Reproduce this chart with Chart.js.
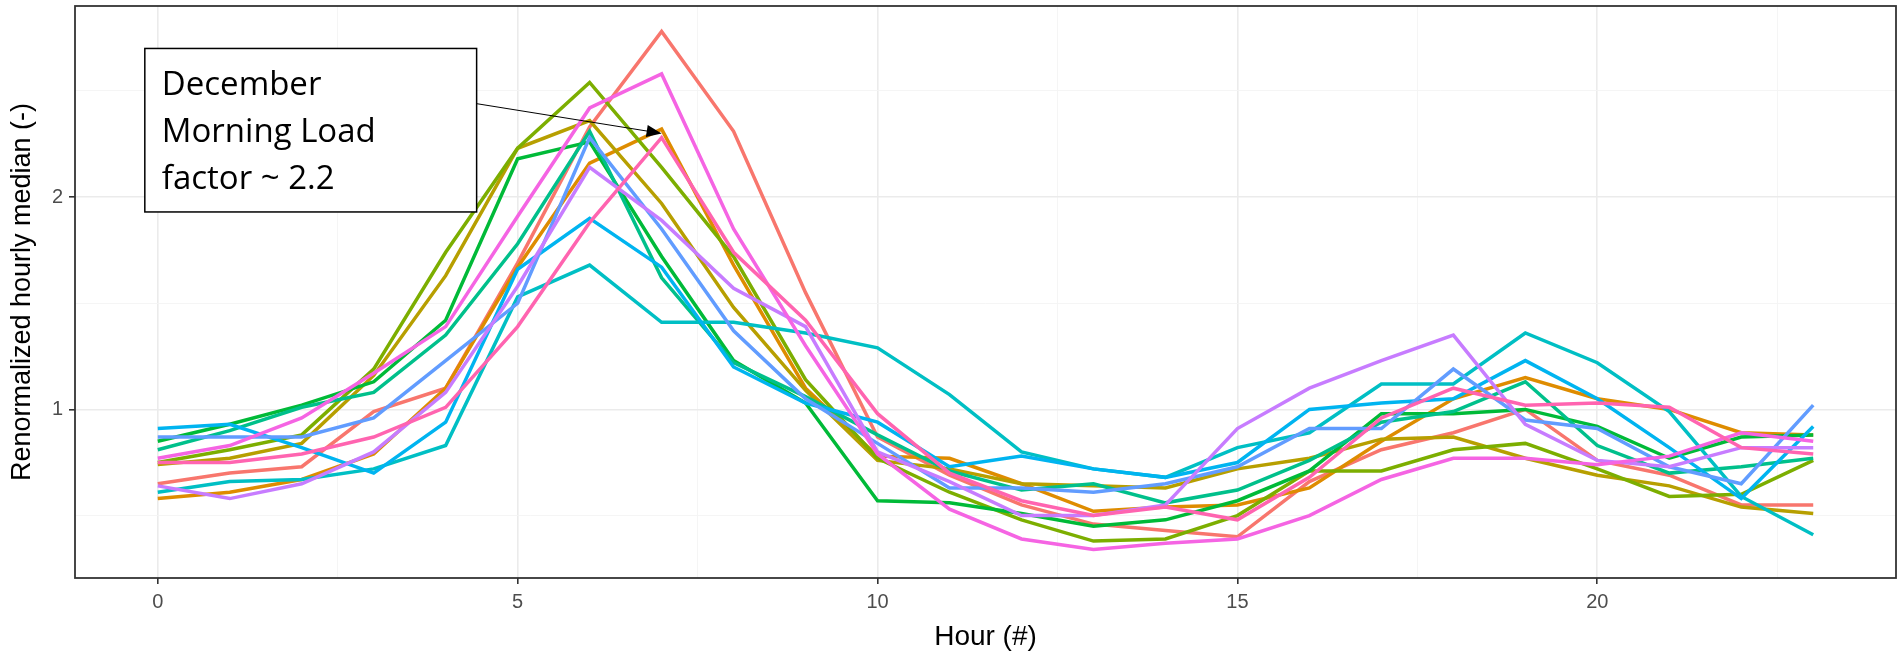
<!DOCTYPE html>
<html>
<head>
<meta charset="utf-8">
<script src="https://cdn.jsdelivr.net/npm/chart.js@4.4.1/dist/chart.umd.min.js"></script>
<style>
  html, body { margin: 0; padding: 0; background: #fff; }
</style>
</head>
<body>
<canvas id="chart" width="1900" height="654"></canvas>
<script>
const hours = [0, 1, 2, 3, 4, 5, 6, 7, 8, 9, 10, 11, 12, 13, 14, 15, 16, 17, 18, 19, 20, 21, 22, 23];
const months = ["January", "February", "March", "April", "May", "June",
  "July", "August", "September", "October", "November", "December"];
const colors = ["#F8766D", "#DE8C00", "#B79F00", "#7CAE00", "#00BA38", "#00C08B",
  "#00BFC4", "#00B4F0", "#619CFF", "#C77CFF", "#F564E3", "#FF64B0"];

const jan = [0.65, 0.70, 0.73, 0.99, 1.10, 1.69, 2.33, 2.78, 2.31, 1.55, 0.87, 0.69, 0.55, 0.46, 0.43, 0.40, 0.66, 0.81, 0.89, 1.00, 0.76, 0.69, 0.55, 0.55];
const feb = [0.58, 0.61, 0.67, 0.79, 1.10, 1.67, 2.16, 2.32, 1.68, 1.10, 0.78, 0.77, 0.65, 0.52, 0.54, 0.55, 0.63, 0.85, 1.05, 1.15, 1.05, 1.00, 0.89, 0.88];
const mar = [0.74, 0.77, 0.84, 1.16, 1.63, 2.23, 2.36, 1.97, 1.48, 1.09, 0.76, 0.72, 0.65, 0.64, 0.63, 0.72, 0.77, 0.86, 0.87, 0.77, 0.69, 0.64, 0.54, 0.51];
const apr = [0.75, 0.81, 0.88, 1.19, 1.74, 2.23, 2.54, 2.14, 1.72, 1.14, 0.77, 0.61, 0.48, 0.38, 0.39, 0.50, 0.71, 0.71, 0.81, 0.84, 0.72, 0.59, 0.60, 0.76];
const may = [0.85, 0.93, 1.02, 1.13, 1.42, 2.18, 2.26, 1.72, 1.23, 1.03, 0.57, 0.56, 0.51, 0.45, 0.48, 0.57, 0.71, 0.98, 0.98, 1.00, 0.92, 0.77, 0.87, 0.88];
const jun = [0.81, 0.90, 1.01, 1.08, 1.35, 1.78, 2.31, 1.62, 1.22, 1.06, 0.88, 0.71, 0.62, 0.65, 0.56, 0.62, 0.76, 0.94, 0.99, 1.13, 0.83, 0.70, 0.73, 0.77];
const jul = [0.61, 0.66, 0.67, 0.72, 0.83, 1.53, 1.68, 1.41, 1.41, 1.36, 1.29, 1.07, 0.80, 0.72, 0.68, 0.82, 0.89, 1.12, 1.12, 1.36, 1.22, 0.99, 0.59, 0.41];
const aug = [0.91, 0.93, 0.82, 0.70, 0.94, 1.66, 1.90, 1.67, 1.20, 1.03, 0.94, 0.73, 0.78, 0.72, 0.68, 0.75, 1.00, 1.03, 1.05, 1.23, 1.05, 0.82, 0.58, 0.92];
const sep = [0.87, 0.87, 0.87, 0.96, 1.23, 1.50, 2.28, 1.85, 1.37, 1.05, 0.84, 0.63, 0.63, 0.61, 0.65, 0.73, 0.91, 0.91, 1.19, 0.95, 0.91, 0.73, 0.65, 1.02];
const oct = [0.64, 0.58, 0.65, 0.80, 1.08, 1.58, 2.14, 1.89, 1.57, 1.39, 0.80, 0.66, 0.50, 0.50, 0.55, 0.91, 1.10, 1.23, 1.35, 0.93, 0.76, 0.73, 0.82, 0.82];
const nov = [0.77, 0.83, 0.96, 1.17, 1.39, 1.91, 2.42, 2.58, 1.85, 1.30, 0.79, 0.53, 0.39, 0.34, 0.37, 0.39, 0.50, 0.67, 0.77, 0.77, 0.74, 0.78, 0.89, 0.85];
const dec = [0.75, 0.75, 0.79, 0.87, 1.01, 1.39, 1.88, 2.28, 1.74, 1.42, 0.98, 0.70, 0.57, 0.50, 0.54, 0.48, 0.68, 0.96, 1.10, 1.02, 1.03, 1.01, 0.82, 0.79];
const series = [jan, feb, mar, apr, may, jun, jul, aug, sep, oct, nov, dec];

const xTicks = [0, 2.5, 5, 7.5, 10, 12.5, 15, 17.5, 20, 22.5];
const yTicks = [0.5, 1, 1.5, 2, 2.5];
const noteLines = ["December", "Morning Load", "factor ~ 2.2"];

const FONT = "'Liberation Sans', Arial, sans-serif";

// panel border, label box and arrow
const extras = {
  id: "extras",
  afterDraw(chart) {
    const ctx = chart.ctx;
    const a = chart.chartArea;
    const xs = chart.scales.x, ys = chart.scales.y;
    ctx.save();

    const bx0 = xs.getPixelForValue(-0.18), bx1 = xs.getPixelForValue(4.43);
    const by0 = ys.getPixelForValue(2.70), by1 = ys.getPixelForValue(1.93);
    ctx.fillStyle = "#fff";
    ctx.fillRect(bx0, by0, bx1 - bx0, by1 - by0);
    ctx.strokeStyle = "#000";
    ctx.lineWidth = 1.5;
    ctx.strokeRect(bx0, by0, bx1 - bx0, by1 - by0);
    ctx.fillStyle = "#000";
    ctx.font = "33px 'Open Sans'";
    ctx.textBaseline = "alphabetic";
    noteLines.forEach((t, i) => ctx.fillText(t, bx0 + 17, by0 + 47 + i * 47));

    // arrow to the December peak
    const sx = bx1, sy = ys.getPixelForValue(2.44);
    const ex = xs.getPixelForValue(7), ey = ys.getPixelForValue(2.30);
    const ang = Math.atan2(ey - sy, ex - sx);
    ctx.lineWidth = 1;
    ctx.beginPath();
    ctx.moveTo(sx, sy);
    ctx.lineTo(ex - 12 * Math.cos(ang), ey - 12 * Math.sin(ang));
    ctx.stroke();
    ctx.beginPath();
    ctx.moveTo(ex, ey);
    ctx.lineTo(ex - 15 * Math.cos(ang) + 6 * Math.sin(ang), ey - 15 * Math.sin(ang) - 6 * Math.cos(ang));
    ctx.lineTo(ex - 15 * Math.cos(ang) - 6 * Math.sin(ang), ey - 15 * Math.sin(ang) + 6 * Math.cos(ang));
    ctx.closePath();
    ctx.fill();

    ctx.strokeStyle = "#333";
    ctx.lineWidth = 1.8;
    ctx.strokeRect(a.left, a.top, a.right - a.left, a.bottom - a.top);
    ctx.restore();
  }
};

new Chart(document.getElementById("chart"), {
  type: "line",
  data: {
    datasets: series.map((vals, i) => ({
      label: months[i],
      data: hours.map((h, j) => ({ x: h, y: vals[j] })),
      borderColor: colors[i],
      borderWidth: 3.5,
      pointRadius: 0,
      tension: 0,
      order: series.length - i
    }))
  },
  options: {
    responsive: false,
    animation: false,
    layout: { padding: { top: 6, right: 4, left: 0, bottom: 0 } },
    plugins: { legend: { display: false }, tooltip: { enabled: false } },
    scales: {
      x: {
        type: "linear",
        min: -1.15,
        max: 24.15,
        afterBuildTicks: s => { s.ticks = xTicks.map(v => ({ value: v })); },
        afterFit: s => { s.height = 76; s.paddingLeft = 0; s.paddingRight = 0; },
        border: { display: false },
        grid: {
          color: c => c.tick && c.tick.value % 5 === 0 ? "#EBEBEB" : "#F4F4F4",
          lineWidth: c => c.tick && c.tick.value % 5 === 0 ? 1.6 : 0.9,
          tickColor: c => c.tick && c.tick.value % 5 === 0 ? "#333" : "rgba(0,0,0,0)",
          tickLength: 6
        },
        ticks: {
          autoSkip: false,
          maxRotation: 0,
          padding: 6,
          color: "#4D4D4D",
          font: { family: FONT, size: 20 },
          callback: v => v % 5 === 0 ? String(v) : ""
        },
        title: {
          display: true,
          text: "Hour (#)",
          color: "#000",
          font: { family: FONT, size: 28, lineHeight: 1.22 },
          padding: 0
        }
      },
      y: {
        min: 0.206,
        max: 2.90,
        afterBuildTicks: s => { s.ticks = yTicks.map(v => ({ value: v })); },
        afterFit: s => { s.width = 75; s.paddingTop = 0; s.paddingBottom = 0; },
        border: { display: false },
        grid: {
          color: c => c.tick && Number.isInteger(c.tick.value) ? "#EBEBEB" : "#F4F4F4",
          lineWidth: c => c.tick && Number.isInteger(c.tick.value) ? 1.6 : 0.9,
          tickColor: c => c.tick && Number.isInteger(c.tick.value) ? "#333" : "rgba(0,0,0,0)",
          tickLength: 6
        },
        ticks: {
          padding: 6,
          color: "#4D4D4D",
          font: { family: FONT, size: 20 },
          callback: v => Number.isInteger(v) ? String(v) : ""
        },
        title: {
          display: true,
          text: "Renormalized hourly median (-)",
          color: "#000",
          font: { family: FONT, size: 27, lineHeight: 1.65 },
          padding: 0
        }
      }
    }
  },
  plugins: [extras]
});
</script>
</body>
</html>
